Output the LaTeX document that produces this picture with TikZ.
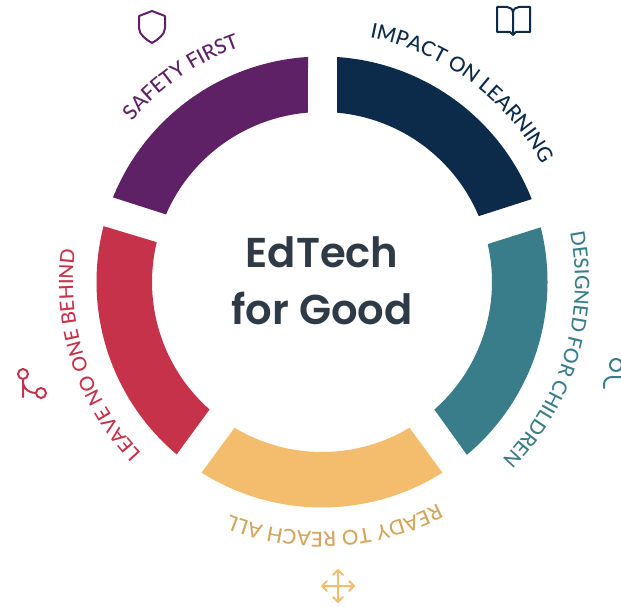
\documentclass[tikz,border=0pt]{standalone}
\usepackage{fontspec}
\usetikzlibrary{decorations.text}
\newfontfamily\titlefont[UprightFont=* SemiBold]{Poppins}
\newfontfamily\labelfont[UprightFont=* Medium]{Lato}
\definecolor{navyc}{HTML}{0C2A4A}
\definecolor{tealc}{HTML}{3A7D8A}
\definecolor{yellowc}{HTML}{F4BD6E}
\definecolor{yellowt}{HTML}{D4A55F}
\definecolor{redc}{HTML}{C63249}
\definecolor{purplec}{HTML}{5F2166}
\definecolor{titlec}{HTML}{2E3A45}
\newcommand\ringseg[9]{%
  \pgfmathsetmacro\aA{atan2(282-#3,#2-322)}%
  \pgfmathsetmacro\aB{atan2(282-#5,#4-322)}%
  \pgfmathsetmacro\aC{atan2(282-#7,#6-322)}%
  \pgfmathsetmacro\aD{atan2(282-#9,#8-322)}%
  \pgfmathsetmacro\aB{\aA-mod(\aA-\aB+720,360)}%
  \pgfmathsetmacro\aD{\aC+mod(\aD-\aC+720,360)}%
  \fill[#1,shift={(322,324)}] (\aA:225.5pt) arc[start angle=\aA,end angle=\aB,radius=225.5pt]
    -- (\aC:170pt) arc[start angle=\aC,end angle=\aD,radius=170pt] -- cycle;}
\newcommand\arclabel[5]{%
  \pgfmathsetmacro\aS{90-(#1)+55}%
  \pgfmathsetmacro\aE{90-(#1)-55}%
  \path[shift={(322,324)},decorate,decoration={text along path,text align=center,
     text={|\labelfont\fontsize{#4}{#4}\selectfont\color{#2}|#3}}]
     (\aS:#5pt) arc[start angle=\aS,end angle=\aE,radius=#5pt];}
\begin{document}
\begin{tikzpicture}[x=1pt,y=1pt,icon/.style={line width=2pt,line cap=round,line join=round}]
\useasboundingbox (0,0) rectangle (621,606);
\clip (0,0) rectangle (621,606);
% ring segments: outer start, outer end, inner end, inner start (clockwise, pixels)
\ringseg{navyc}{337}{57}{532}{199}{479}{216}{337}{113}
\ringseg{tealc}{542}{227}{467}{455}{433}{408}{488}{244}
\ringseg{yellowc}{442}{472}{202}{472}{235}{427}{409}{427}
\ringseg{redc}{177}{454}{103}{226}{156}{242}{210}{409}
\ringseg{purplec}{112}{197}{308}{57}{308}{113}{165}{214}
\arclabel{36.5}{navyc}{IMPACT ON LEARNING}{20.5}{249}
\arclabel{106.7}{tealc}{DESIGNED FOR CHILDREN}{19.8}{253}
\arclabel{177}{yellowt}{READY TO REACH ALL}{20.5}{250}
\arclabel{-108}{redc}{LEAVE NO ONE BEHIND}{19.6}{249}
\arclabel{-34.5}{purplec}{SAFETY FIRST}{20.5}{249}
\node[text=titlec,font=\titlefont\fontsize{41.7}{57}\selectfont,align=center] (title) at (322,325) {EdTech\\for Good};
\begin{scope}[shift={(0,606)},y=-1pt,icon]
% shield
\draw[purplec] (152,11) -- (165,16) -- (165,28) .. controls (165,35) and (157,40) .. (152,43)
  .. controls (147,40) and (139,35) .. (139,28) -- (139,16) -- cycle;
% book
\draw[navyc] (513,35) -- (513,13) .. controls (513,9) and (510,7) .. (507,7) -- (497,7) -- (497,32) -- (510,32) -- (513,35)
  -- (516,32) -- (530,32) -- (530,7) -- (519,7) .. controls (516,7) and (513,9) .. (513,13);
% branch
\draw[redc] (23,374) circle[radius=5pt] (41,393) circle[radius=5pt];
\draw[redc] (23,379) -- (23,397) (23,384) .. controls (25,390) and (30,393) .. (36,393);
% move
\draw[yellowc] (322,586) -- (354,586) (338,570) -- (338,602)
  (333,575) -- (338,570) -- (343,575) (333,597) -- (338,602) -- (343,597)
  (327,581) -- (322,586) -- (327,591) (349,581) -- (354,586) -- (349,591);
% person icon, cut off by the right edge
\draw[tealc] (616,365) circle[radius=6pt];
\draw[tealc] (604,388) -- (604,384) .. controls (604,380) and (608,377) .. (612,377) -- (622,377);
\end{scope}
\end{tikzpicture}
\end{document}
